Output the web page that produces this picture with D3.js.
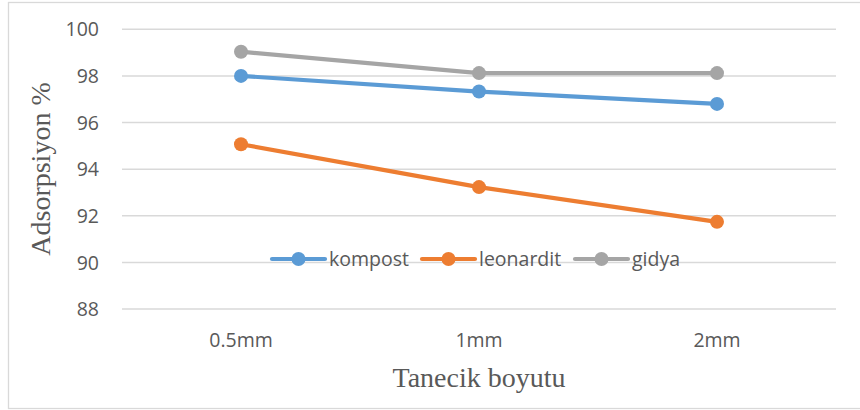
<!DOCTYPE html>
<html><head><meta charset="utf-8">
<script src="https://cdn.jsdelivr.net/npm/d3@7"></script>
<style>body{margin:0;background:#fff}svg{display:block}</style>
</head><body><svg id="c" width="860" height="410"></svg>
<script>
const categories = ["0.5mm", "1mm", "2mm"];
const kompost = [98.0, 97.33, 96.8];
const leonardit = [95.07, 93.23, 91.74];
const gidya = [99.04, 98.12, 98.12];
const seriesNames = ["kompost", "leonardit", "gidya"];
const yTicks = [88, 90, 92, 94, 96, 98, 100];
const yTitle = "Adsorpsiyon %";
const xTitle = "Tanecik boyutu";

const colors = ["#5B9BD5", "#ED7D31", "#A5A5A5"];
const seriesData = [kompost, leonardit, gidya];
const svg = d3.select("#c");
const labelFont = "'Open Sans', sans-serif";
const txt = "#595959";

svg.append("rect").attr("x", 8.5).attr("y", 2.5).attr("width", 870).attr("height", 406)
  .attr("fill", "#fff").attr("stroke", "#D9D9D9").attr("stroke-width", 1.3);

const x = d3.scaleBand().domain(categories).range([122, 836]);
const y = d3.scaleLinear().domain([88, 100]).range([309, 29.3]);

const g = svg.append("g");
g.selectAll("line.grid").data(yTicks).join("line").attr("class", "grid")
  .attr("x1", 122).attr("x2", 836).attr("y1", d => y(d)).attr("y2", d => y(d))
  .attr("stroke", "#D9D9D9").attr("stroke-width", 1.5);

const yAxis = d3.axisLeft(y).tickValues(yTicks).tickSize(0).tickPadding(0);
const ya = svg.append("g").attr("transform", "translate(99,0)").call(yAxis);
ya.select(".domain").remove();
ya.selectAll("text").attr("font-family", labelFont).attr("font-size", 19.5).attr("fill", txt).attr("dy", "0.34em");

const xAxis = d3.axisBottom(x).tickSize(0).tickPadding(0);
const xa = svg.append("g").attr("transform", "translate(0,340)").call(xAxis);
xa.select(".domain").remove();
xa.selectAll("text").attr("font-family", labelFont).attr("font-size", 19.5).attr("fill", txt).attr("dy", "0.34em");

const line = d3.line().x((d, i) => x(categories[i]) + x.bandwidth() / 2).y(d => y(d));
seriesData.forEach((s, k) => {
  g.append("path").datum(s).attr("d", line).attr("fill", "none")
    .attr("stroke", colors[k]).attr("stroke-width", 4.2).attr("stroke-linecap", "round");
  g.selectAll("circle.s" + k).data(s).join("circle").attr("class", "s" + k)
    .attr("cx", (d, i) => x(categories[i]) + x.bandwidth() / 2).attr("cy", d => y(d))
    .attr("r", 7).attr("fill", colors[k]);
});

// legend
const legX = [272, 422, 575];
const legY = 259;
seriesNames.forEach((n, k) => {
  const lg = svg.append("g").attr("transform", `translate(${legX[k]},${legY})`);
  lg.append("line").attr("x1", 0).attr("x2", 53).attr("y1", 0).attr("y2", 0)
    .attr("stroke", colors[k]).attr("stroke-width", 4.2).attr("stroke-linecap", "round");
  lg.append("circle").attr("cx", 26.5).attr("cy", 0).attr("r", 7).attr("fill", colors[k]);
  lg.append("text").attr("x", 57).attr("y", 0).attr("dy", "0.34em").text(n)
    .attr("font-family", labelFont).attr("font-size", 19.5).attr("fill", txt);
});

svg.append("text").attr("x", 479).attr("y", 387).attr("text-anchor", "middle")
  .attr("font-family", "'Liberation Serif', 'Times New Roman', serif").attr("font-size", 28)
  .attr("fill", txt).text(xTitle);
svg.append("text").attr("transform", "translate(50,169) rotate(-90)").attr("text-anchor", "middle")
  .attr("font-family", "'Liberation Serif', 'Times New Roman', serif").attr("font-size", 28)
  .attr("fill", txt).text(yTitle);
</script></body></html>
